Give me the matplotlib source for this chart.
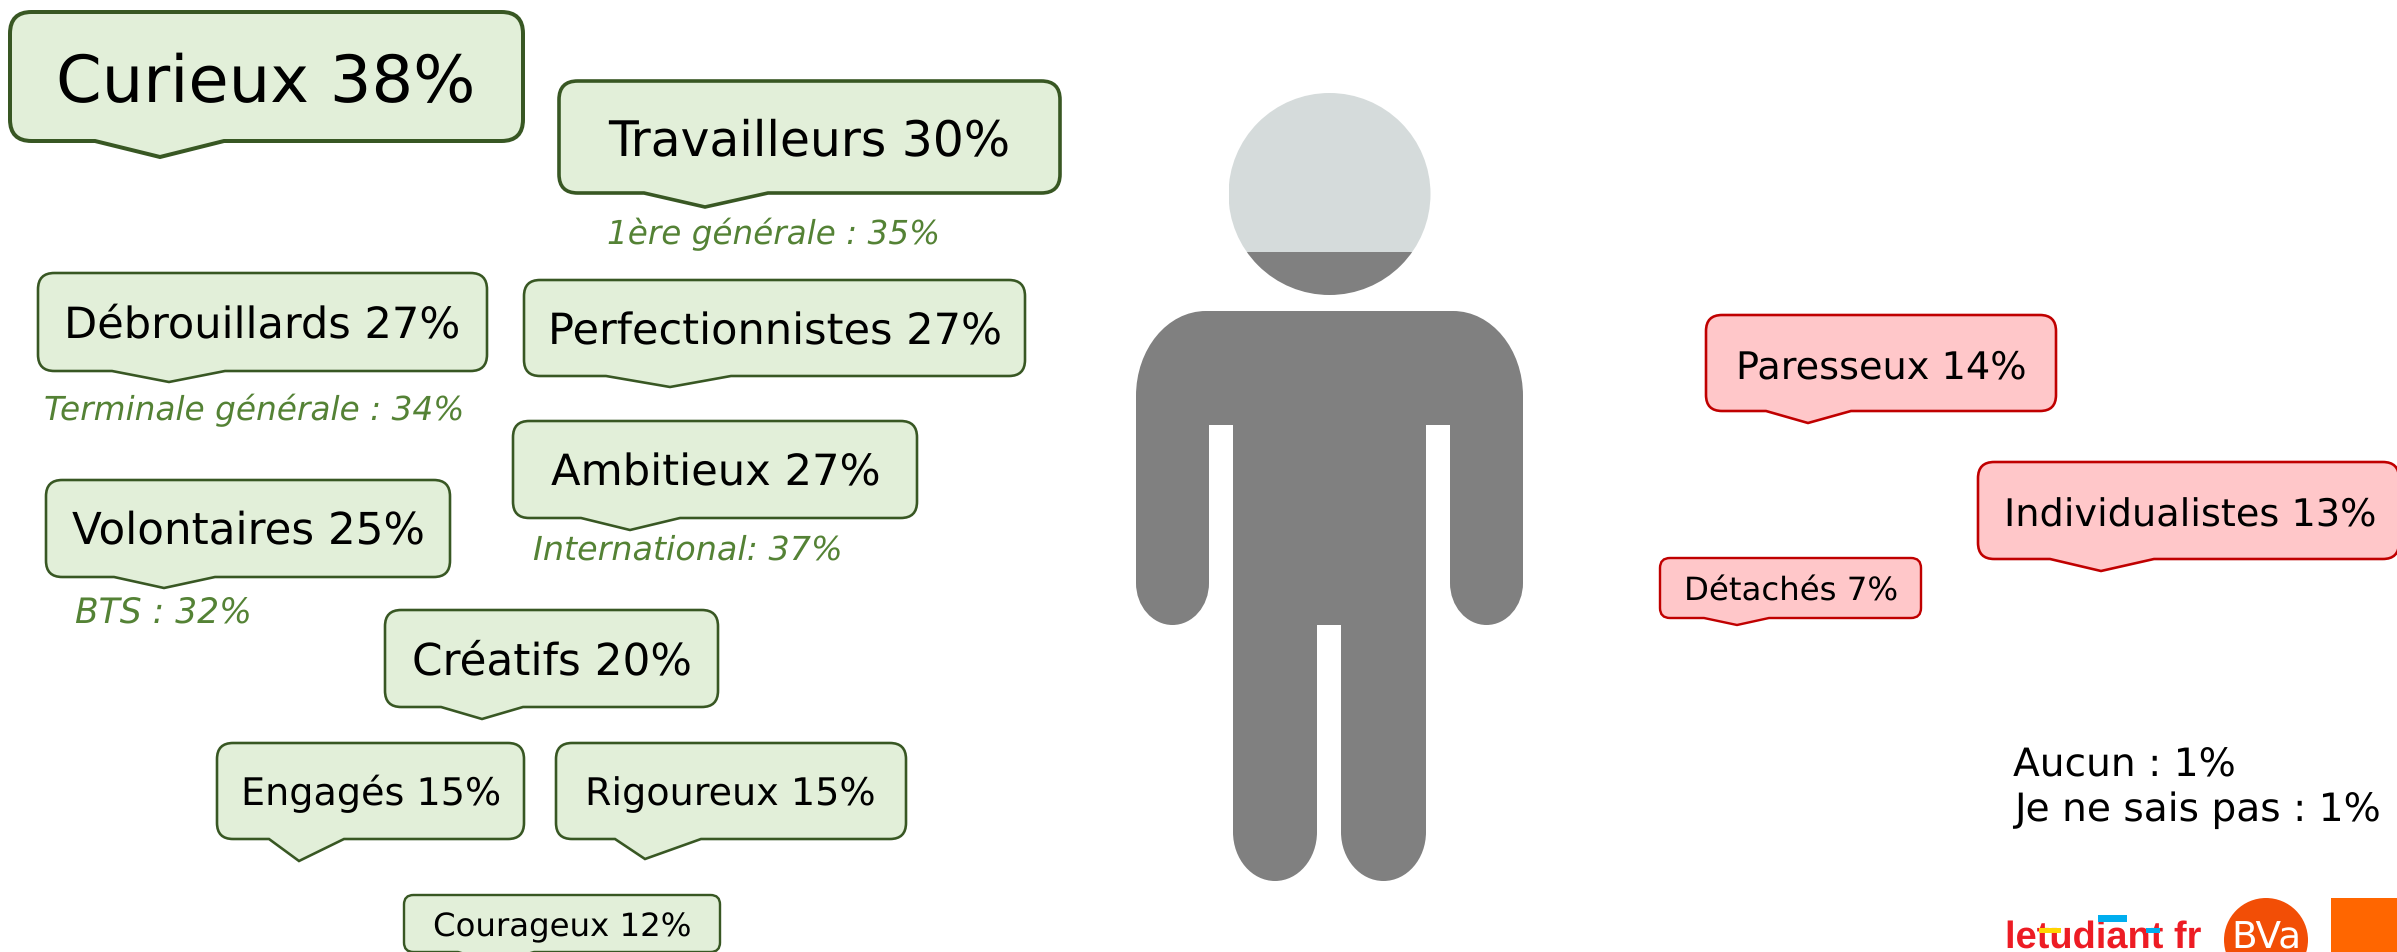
import matplotlib
matplotlib.use("Agg")
import matplotlib.pyplot as plt
from matplotlib.path import Path
from matplotlib.patches import PathPatch, Circle, Rectangle
from matplotlib.textpath import TextPath
from matplotlib.font_manager import FontProperties

plt.rcParams["text.hinting"] = "no_hinting"

# ---------- data ----------
positive_traits = ["Curieux", "Travailleurs", "Débrouillards", "Perfectionnistes", "Ambitieux",
                   "Volontaires", "Créatifs", "Engagés", "Rigoureux", "Courageux"]
positive_values = [38, 30, 27, 27, 27, 25, 20, 15, 15, 12]
negative_traits = ["Paresseux", "Individualistes", "Détachés"]
negative_values = [14, 13, 7]
sub_labels = ["1ère générale : 35%", "Terminale générale : 34%", "International: 37%", "BTS : 32%"]
other_labels = ["Aucun : 1%", "Je ne sais pas : 1%"]

# ---------- layout (pixels): x0, x1, top, bottom, notch left, notch right, tip x, tip y, lw ----------
positive_boxes = [
    (10, 523, 12, 141, 95, 224, 160, 157, 4.0),
    (559, 1060, 81, 193, 644, 768, 705, 207, 3.6),
    (38, 487, 273, 371, 112, 225, 169, 382, 2.6),
    (524, 1025, 280, 376, 606, 731, 670, 387, 2.6),
    (513, 917, 421, 518, 581, 680, 630, 530, 2.6),
    (46, 450, 480, 577, 114, 215, 164, 588, 2.6),
    (385, 718, 610, 707, 441, 523, 482, 719, 2.6),
    (217, 524, 743, 839, 269, 344, 299, 861, 2.6),
    (556, 906, 743, 839, 615, 701, 645, 859, 2.6),
    (404, 720, 895, 952, 458, 534, 496, 963, 2.4),
]
positive_text = [(60, 472, 102), (608, 1008, 155), (68, 458, 338), (552, 999, 344), (551, 878, 485),
                 (72, 422, 544), (414, 689, 674), (245, 499, 805), (589, 874, 805), (435, 690, 936)]
negative_boxes = [
    (1706, 2056, 315, 411, 1766, 1851, 1808, 423, 2.6),
    (1978, 2399, 462, 559, 2050, 2154, 2101, 571, 2.6),
    (1660, 1921, 558, 618, 1704, 1769, 1737, 625, 2.4),
]
negative_text = [(1740, 2025, 378), (2008, 2375, 526), (1687, 1896, 601)]
sub_text = [(609, 938, 244), (45, 461, 420), (534, 840, 560), (76, 249, 623)]
other_text = [(2013, 2233, 776), (2012, 2378, 821)]

GREEN_FILL, GREEN_EDGE, GREEN_TEXT = "#E2EFD9", "#385723", "#548235"
RED_FILL, RED_EDGE = "#FFC7C9", "#C00000"
BODY, HEAD_TOP = "#808080", "#D5DBDB"

W, H, DPI = 2397, 952, 100
fig = plt.figure(figsize=(W / DPI, H / DPI), dpi=DPI, facecolor="white")
ax = fig.add_axes([0, 0, 1, 1])
ax.set_xlim(0, W)
ax.set_ylim(H, 0)
ax.axis("off")


def fit_text(s, x0, x1, y, color="black", style="normal", family="DejaVu Sans", weight="normal", z=5):
    fp = FontProperties(family=family, style=style, weight=weight)
    ext = TextPath((0, 0), s, size=100, prop=fp).get_extents()
    size = (x1 - x0) / ext.width * 100 * 72 / DPI
    left = x0 - ext.x0 / 100 * size * DPI / 72
    ax.text(left, y, s, fontproperties=fp, fontsize=size, color=color, ha="left", va="baseline", zorder=z)


def callout(box, fill, edge):
    x0, x1, t, b, n0, n1, tx, ty, lw = box
    r = (b - t) / 6
    verts = [(x0 + r, t), (x1 - r, t), (x1, t), (x1, t + r), (x1, b - r), (x1, b), (x1 - r, b),
             (n1, b), (tx, ty), (n0, b), (x0 + r, b), (x0, b), (x0, b - r), (x0, t + r), (x0, t), (x0 + r, t),
             (x0 + r, t)]
    codes = [Path.MOVETO, Path.LINETO, Path.CURVE3, Path.CURVE3, Path.LINETO, Path.CURVE3, Path.CURVE3,
             Path.LINETO, Path.LINETO, Path.LINETO, Path.LINETO, Path.CURVE3, Path.CURVE3, Path.LINETO,
             Path.CURVE3, Path.CURVE3, Path.CLOSEPOLY]
    ax.add_patch(PathPatch(Path(verts, codes), facecolor=fill, edgecolor=edge, lw=lw * 72 / DPI,
                           joinstyle="miter", zorder=3))


for name, val, box, tp in zip(positive_traits, positive_values, positive_boxes, positive_text):
    callout(box, GREEN_FILL, GREEN_EDGE)
    fit_text(f"{name} {val}%", *tp)
for name, val, box, tp in zip(negative_traits, negative_values, negative_boxes, negative_text):
    callout(box, RED_FILL, RED_EDGE)
    fit_text(f"{name} {val}%", *tp)
for s, tp in zip(sub_labels, sub_text):
    fit_text(s, *tp, color=GREEN_TEXT, style="italic")
for s, tp in zip(other_labels, other_text):
    fit_text(s, *tp)

# ---------- person pictogram ----------
HEAD_CX, HEAD_CY, HEAD_R, HEAD_SPLIT = 1329.5, 194, 101, 252
for color, (yt, yb) in ((HEAD_TOP, (HEAD_CY - HEAD_R, HEAD_SPLIT)), (BODY, (HEAD_SPLIT, HEAD_CY + HEAD_R))):
    c = Circle((HEAD_CX, HEAD_CY), HEAD_R, facecolor=color, edgecolor="none", zorder=2)
    ax.add_patch(c)
    c.set_clip_path(Rectangle((HEAD_CX - HEAD_R, yt), 2 * HEAD_R, yb - yt, transform=ax.transData))


class Outline:
    K = 0.5523

    def __init__(self, x, y):
        self.v, self.c = [(x, y)], [Path.MOVETO]

    def line(self, x, y):
        self.v.append((x, y)); self.c.append(Path.LINETO); return self

    def arc(self, x, y, horizontal_first):
        x0, y0 = self.v[-1]
        k = self.K
        if horizontal_first:
            p1 = (x0 + k * (x - x0), y0); p2 = (x, y - k * (y - y0))
        else:
            p1 = (x0, y0 + k * (y - y0)); p2 = (x - k * (x - x0), y)
        self.v += [p1, p2, (x, y)]; self.c += [Path.CURVE4] * 3
        return self


o = Outline(1206, 311)
o.line(1453, 311).arc(1523, 396, True).line(1523, 583)
o.arc(1486.5, 625, False).arc(1450, 583, True).line(1450, 425).line(1426, 425).line(1426, 832)
o.arc(1383.5, 881, False).arc(1341, 832, True).line(1341, 625).line(1317, 625).line(1317, 832)
o.arc(1275, 881, False).arc(1233, 832, True).line(1233, 425).line(1209, 425).line(1209, 583)
o.arc(1172.5, 625, False).arc(1136, 583, True).line(1136, 396).arc(1206, 311, False)
ax.add_patch(PathPatch(Path(o.v, o.c), facecolor=BODY, edgecolor="none", zorder=2))

# ---------- logos ----------
fit_text("letudiant fr", 2008, 2201, 948, color="#ED1C24", family="Liberation Sans", weight="bold")
for x, y, w, h, col in [(2039, 928, 22, 5, "#FFD400"), (2098, 915, 29, 7, "#00AEEF"), (2146, 928, 14, 5, "#00AEEF")]:
    ax.add_patch(Rectangle((x, y), w, h, facecolor=col, edgecolor="none", zorder=6))
ax.add_patch(Circle((2266, 940), 42, facecolor="#F24E06", edgecolor="none", zorder=4))
fit_text("BVa", 2235, 2298, 948, color="white")
ax.add_patch(Rectangle((2331, 898), 66, 54, facecolor="#FF6600", edgecolor="none", zorder=4))

fig.savefig("out.png", dpi=DPI, facecolor="white")
